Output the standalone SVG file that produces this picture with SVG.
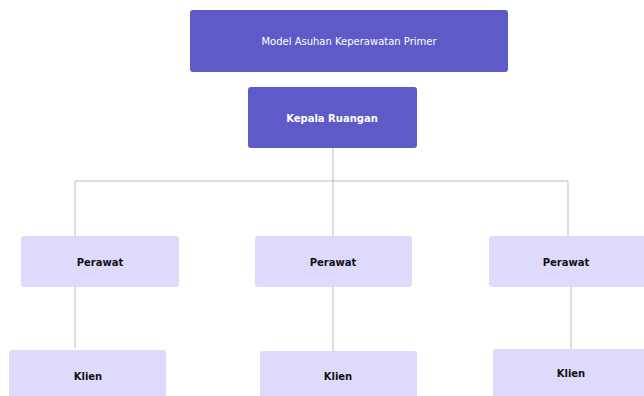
<svg xmlns="http://www.w3.org/2000/svg" width="644" height="396" viewBox="0 0 644 396">
<style>
.dark{fill:#5E5BC8;}
.light{fill:#DEDAFB;}
.t{font-family:"DejaVu Sans","Liberation Sans",sans-serif;font-size:10px;text-anchor:middle;dominant-baseline:central;}
.w{fill:#FFFFFF;}
.b{fill:#111111;font-weight:700;}
.c{stroke:#BDBDBD;stroke-width:1;fill:none;}
</style>
<rect width="644" height="396" fill="#FFFFFF"/>
<g id="connectors">
<path class="c" d="M333 148 V236"/>
<path class="c" d="M75 181 H568"/>
<path class="c" d="M75 181 V236"/>
<path class="c" d="M568 181 V236"/>
<path class="c" d="M75 287 V348"/>
<path class="c" d="M333 287 V351"/>
<path class="c" d="M571 287 V349"/>
</g>
<g id="model">
<rect class="dark" x="190" y="10" width="318" height="62" rx="3"/>
<text class="t w" x="349" y="41" font-size="10.6">Model Asuhan Keperawatan Primer</text>
</g>
<g id="kepala">
<rect class="dark" x="248" y="87" width="169" height="61" rx="3"/>
<text class="t w" x="332" y="118" font-weight="700">Kepala Ruangan</text>
</g>
<g id="perawat1">
<rect class="light" x="21" y="236" width="158" height="51" rx="3"/>
<text class="t b" x="100" y="262">Perawat</text>
</g>
<g id="perawat2">
<rect class="light" x="255" y="236" width="157" height="51" rx="3"/>
<text class="t b" x="333" y="262">Perawat</text>
</g>
<g id="perawat3">
<rect class="light" x="489" y="236" width="160" height="51" rx="3"/>
<text class="t b" x="566" y="262">Perawat</text>
</g>
<g id="klien1">
<rect class="light" x="9" y="350" width="157" height="52" rx="3"/>
<text class="t b" x="88" y="376">Klien</text>
</g>
<g id="klien2">
<rect class="light" x="260" y="351" width="157" height="51" rx="3"/>
<text class="t b" x="338" y="376">Klien</text>
</g>
<g id="klien3">
<rect class="light" x="493" y="349" width="156" height="53" rx="3"/>
<text class="t b" x="571" y="373">Klien</text>
</g>
</svg>
